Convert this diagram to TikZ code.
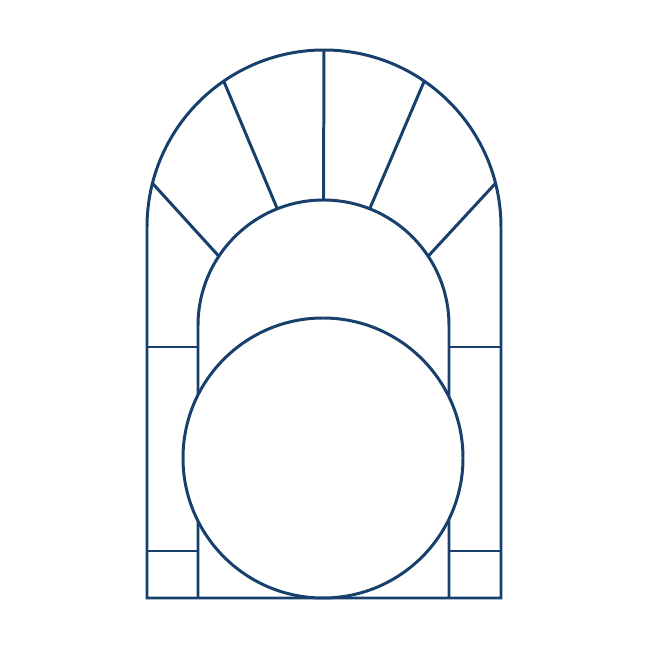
\documentclass[tikz,border=0pt]{standalone}
\usepackage{tikz}
\definecolor{archblue}{RGB}{24,64,108}
\tikzstyle{lines}=[%
	x=0.4mm, y=0.4mm,
	every path/.style = {
		draw = archblue,
		line width = 3.4pt
	}
]
\begin{document}
\begin{tikzpicture}[lines]
	\def\outr{177}
	\def\innr{125.5}

	% Background, frame
	\path[draw=none] (0,0) rectangle (650,650);
	\draw (147,52) -- (147,423) arc[start angle=180, end angle=0, radius=\outr] -- (501,52) -- cycle;

	% % Inner arch
	\draw (198,52) -- (198,324.5) arc[start angle=180, end angle=0, radius=\innr] -- (449,52);

	% % Spokes
	\foreach \a/\b in {165.7/146.5, 124.5/111.6, 90/90, 55.5/68.4, 14.3/33.5} {
		\draw ([shift={(324,423)}]\a:\outr) -- ([shift={(323.5,324.5)}]\b:\innr);
	}

	% % Side bars
	\foreach \y in {303, 99} {
		\draw (147,\y) -- (199,\y);
		\draw (448,\y) -- (501,\y);
	}

	% % Circle
	\draw[fill=white] (323,192) circle (140);

\end{tikzpicture}
\end{document}
